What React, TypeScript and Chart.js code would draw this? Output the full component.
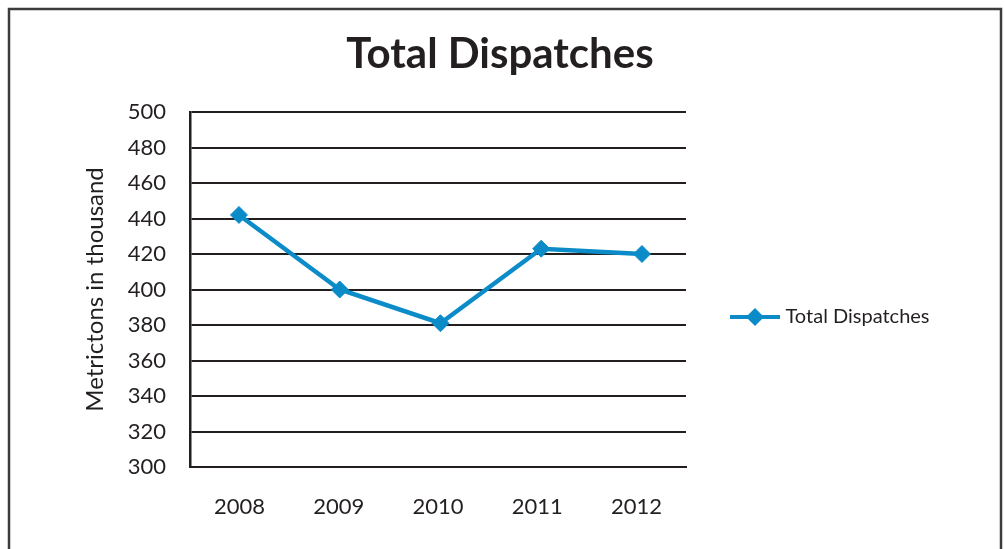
import React, { useEffect, useRef } from 'react';
import { Chart, registerables } from 'chart.js';

Chart.register(...registerables);

// ---- data ----
const years = ['2008', '2009', '2010', '2011', '2012'];
const dispatches = [442, 400, 381, 423, 420];
const chartTitle = 'Total Dispatches';
const seriesName = 'Total Dispatches';
const yAxisTitle = 'Metrictons in thousand';
const yMin = 300;
const yMax = 500;
const yStep = 20;

// ---- style ----
const LINE_COLOR = '#0b8cc8';
const INK = '#231f20';
const FRAME = '#3c3c3c';
const FONT = 'Lato';
const W = 1005;
const H = 549;

export default function App() {
  const ref = useRef<HTMLCanvasElement | null>(null);

  useEffect(() => {
    const canvas = ref.current;
    if (!canvas) return;

    // legend icon: line with a diamond, as in the spreadsheet legend
    const icon = document.createElement('canvas');
    icon.width = 50;
    icon.height = 20;
    const ic = icon.getContext('2d')!;
    ic.strokeStyle = LINE_COLOR;
    ic.lineWidth = 4;
    ic.beginPath();
    ic.moveTo(0, 10);
    ic.lineTo(50, 10);
    ic.stroke();
    ic.fillStyle = LINE_COLOR;
    ic.beginPath();
    ic.moveTo(16, 10);
    ic.lineTo(25, 1);
    ic.lineTo(34, 10);
    ic.lineTo(25, 19);
    ic.closePath();
    ic.fill();

    // layout helpers
    const legendFontSize = 20;
    const legendPad = 48.5;
    const legendBox = 41;
    const mctx = document.createElement('canvas').getContext('2d')!;
    mctx.font = `${legendFontSize}px ${FONT}`;
    const textW = mctx.measureText(seriesName).width;
    const plotLeft = 190;
    const plotRight = 686;
    const legendWidth = legendPad + legendBox + legendFontSize / 2 + textW + 10;
    const padRight = W - plotRight - legendWidth;
    const padLeft = padRight - 5; // keeps the title centred near x=500
    const yAxisWidth = plotLeft - padLeft;
    const yTitleSize = 24;
    const yTitlePadTop = 95 - padLeft - (yTitleSize * 1.2) / 2;
    const titleSize = 42;
    const titleLine = titleSize * 1.2;
    const titlePadTop = 19;
    const titlePadBottom = 112 - 10 - titlePadTop - titleLine;

    const framePlugin = {
      id: 'frame',
      afterDraw(chart: any) {
        const c = chart.ctx;
        c.save();
        c.strokeStyle = FRAME;
        c.lineWidth = 2.5;
        c.strokeRect(9, 9, 992, 600);
        c.restore();
      },
    };

    const chart = new Chart(canvas, {
      type: 'line',
      data: {
        datasets: [
          {
            label: seriesName,
            data: dispatches.map((v, i) => ({ x: i, y: v })),
            xAxisID: 'x',
            borderColor: LINE_COLOR,
            backgroundColor: LINE_COLOR,
            borderWidth: 4.5,
            pointStyle: 'rectRot',
            pointRadius: 8.5,
            pointBorderWidth: 1,
            pointBackgroundColor: LINE_COLOR,
            pointBorderColor: LINE_COLOR,
            tension: 0,
            clip: false as any,
          },
        ],
      },
      options: {
        animation: false,
        responsive: false,
        devicePixelRatio: 1,
        layout: { padding: { top: 10, left: padLeft, right: padRight, bottom: 0 } },
        plugins: {
          title: {
            display: true,
            text: chartTitle,
            color: INK,
            font: { family: FONT, size: titleSize, weight: 'bold' },
            padding: { top: titlePadTop, bottom: titlePadBottom },
          },
          legend: {
            position: 'right',
            fullSize: false,
            align: 'center',
            maxWidth: 500,
            title: { display: true, text: '', padding: { top: 43, bottom: 0 }, font: { size: 10 } },
            labels: {
              usePointStyle: true,
              pointStyle: icon as any,
              pointStyleWidth: legendBox,
              padding: legendPad,
              color: INK,
              font: { family: FONT, size: legendFontSize },
            },
          },
          tooltip: { enabled: false },
        },
        scales: {
          // value axis for the points (positions only, no labels)
          x: {
            type: 'linear',
            position: 'bottom',
            min: -0.486,
            max: 4.437,
            grid: { display: false },
            border: { display: true, color: INK, width: 2 },
            ticks: { display: false },
            afterFit: (s: any) => {
              s.height = 0;
            },
          },
          // category axis carrying the year labels
          xLabels: {
            type: 'category',
            position: 'bottom',
            labels: years,
            offset: true,
            grid: { display: false },
            border: { display: false },
            afterFit: (s: any) => {
              s.height = H - 467;
            },
            ticks: {
              color: INK,
              font: { family: FONT, size: 22 },
              padding: 19,
              maxRotation: 0,
              autoSkip: false,
            },
          },
          y: {
            min: yMin,
            max: yMax,
            grid: { color: INK, lineWidth: 2, drawTicks: false },
            border: { display: true, color: INK, width: 2.5 },
            afterFit: (s: any) => {
              s.width = yAxisWidth;
            },
            ticks: {
              stepSize: yStep,
              color: INK,
              padding: 24,
              font: { family: FONT, size: 22 },
            },
            title: {
              display: true,
              text: yAxisTitle,
              color: INK,
              font: { family: FONT, size: yTitleSize },
              padding: { top: yTitlePadTop, bottom: 4 },
            },
          },
        },
      },
      plugins: [framePlugin],
    });

    return () => chart.destroy();
  }, []);

  return (
    <div style={{ position: 'absolute', left: 0, top: 0, width: W, height: H, background: '#fff' }}>
      <canvas ref={ref} width={W} height={H} style={{ display: 'block' }} />
    </div>
  );
}
